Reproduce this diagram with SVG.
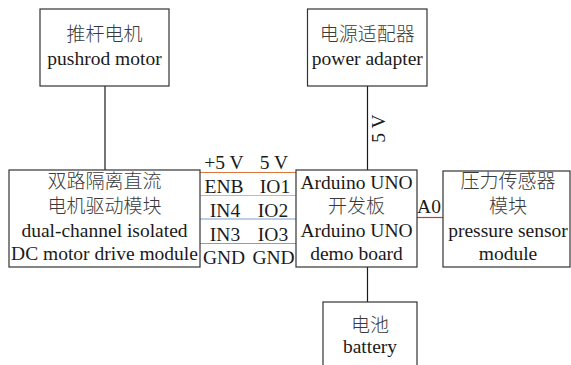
<svg xmlns="http://www.w3.org/2000/svg" width="571" height="365" viewBox="0 0 571 365">
<style>
.box{fill:#fff;stroke:#333;stroke-width:1.2}
.t{font-family:"Liberation Serif","Noto Sans CJK SC",serif;font-size:19.5px;fill:#1a1a1a;text-anchor:middle}
.c{font-family:"Noto Sans CJK SC","Liberation Serif",serif;font-size:19px;font-weight:300;fill:#3a3a3a;text-anchor:middle}
.w{stroke:#1a1a1a;stroke-width:1.2;fill:none}
</style>
<rect width="571" height="365" fill="#fff"/>
<g id="connectors">
<line class="w" x1="105" y1="86" x2="105" y2="170"/>
<line class="w" x1="367.5" y1="86" x2="367.5" y2="170"/>
<line class="w" x1="367.5" y1="267" x2="367.5" y2="302"/>
<line x1="200" y1="172.5" x2="296" y2="172.5" stroke="#d9773f" stroke-width="1.2"/>
<line x1="200" y1="195.5" x2="296" y2="195.5" stroke="#f2b44c" stroke-width="1.2"/>
<line x1="200" y1="219" x2="296" y2="219" stroke="#7a9fd0" stroke-width="1.2"/>
<line x1="200" y1="243.5" x2="296" y2="243.5" stroke="#86b266" stroke-width="1.2"/>
<line x1="417" y1="217.5" x2="443" y2="217.5" stroke="#e03030" stroke-width="1.2"/>
<text class="t" transform="translate(385,128.5) rotate(-90)">5 V</text>
<text class="t" x="429" y="213">A0</text>
<text class="t" x="224" y="169">+5 V</text>
<text class="t" x="274" y="169">5 V</text>
<text class="t" x="224" y="193">ENB</text>
<text class="t" x="275" y="193">IO1</text>
<text class="t" x="225" y="217">IN4</text>
<text class="t" x="273" y="217">IO2</text>
<text class="t" x="225" y="241">IN3</text>
<text class="t" x="273" y="241">IO3</text>
<text class="t" x="224" y="264">GND</text>
<text class="t" x="273.5" y="264">GND</text>
</g>
<g id="pushrod">
<rect class="box" x="40" y="9" width="129" height="77"/>
<text class="c" x="104.5" y="41">推杆电机</text>
<text class="t" x="104.5" y="65">pushrod motor</text>
</g>
<g id="adapter">
<rect class="box" x="307.5" y="9" width="119.5" height="77"/>
<text class="c" x="367.3" y="41">电源适配器</text>
<text class="t" x="367.3" y="65">power adapter</text>
</g>
<g id="driver">
<rect class="box" x="9" y="170" width="191" height="97"/>
<text class="c" x="104.5" y="188">双路隔离直流</text>
<text class="c" x="104.5" y="213">电机驱动模块</text>
<text class="t" x="104.5" y="237">dual-channel isolated</text>
<text class="t" x="104.5" y="260">DC motor drive module</text>
</g>
<g id="arduino">
<rect class="box" x="296" y="170" width="121" height="97"/>
<text class="t" x="356.5" y="189">Arduino UNO</text>
<text class="c" x="356.5" y="213">开发板</text>
<text class="t" x="356.5" y="237">Arduino UNO</text>
<text class="t" x="356.5" y="260">demo board</text>
</g>
<g id="sensor">
<rect class="box" x="443" y="171" width="127" height="96"/>
<text class="c" x="508" y="188">压力传感器</text>
<text class="c" x="508" y="213">模块</text>
<text class="t" x="508" y="237">pressure sensor</text>
<text class="t" x="508" y="260">module</text>
</g>
<g id="battery">
<rect class="box" x="323" y="302" width="94" height="70"/>
<text class="c" x="370" y="332">电池</text>
<text class="t" x="370" y="353">battery</text>
</g>
</svg>
